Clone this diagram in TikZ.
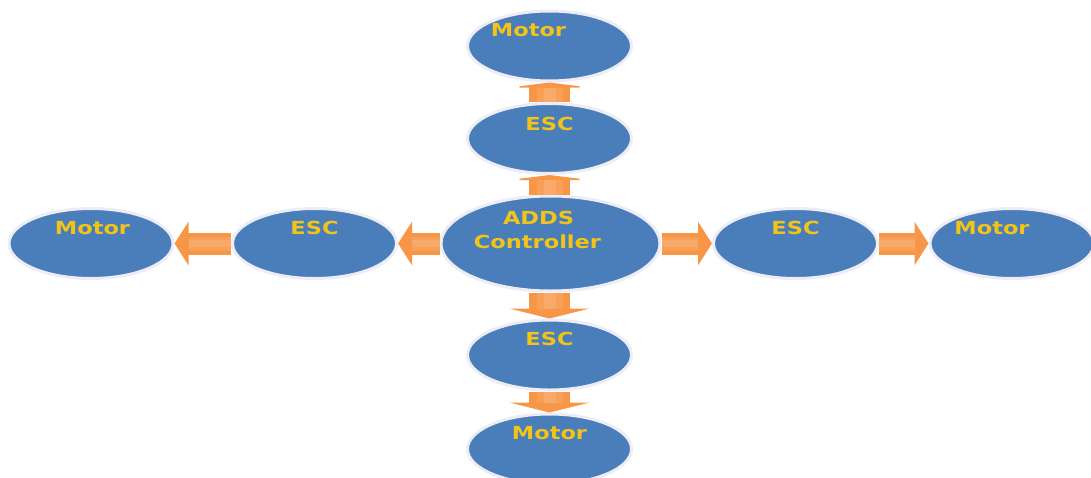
\documentclass[tikz,border=0pt]{standalone}
\usepackage{fontspec}
\usepackage{graphicx}
\setmainfont{DejaVu Sans}
\usetikzlibrary{arrows.meta,shapes.geometric}
\definecolor{blobblue}{RGB}{74,126,187}
\definecolor{blobrim}{RGB}{238,236,245}
\definecolor{txtgold}{RGB}{242,196,24}
\definecolor{arrorange}{RGB}{247,150,70}
\definecolor{arrmid}{RGB}{248,160,88}
\definecolor{arrlight}{RGB}{249,170,106}
\newcommand{\wtxt}[1]{\scalebox{1.25}[1]{#1}}
\tikzset{
  blob/.style={ellipse, fill=blobblue, draw=blobrim, line width=3pt,
    minimum width=164pt, minimum height=70pt, inner sep=0pt},
  bigblob/.style={blob, minimum width=219pt, minimum height=95pt},
  lbltxt/.style={text=txtgold, font=\fontsize{18}{22}\selectfont\bfseries,
    inner sep=0pt, text depth=0pt},
  harrow/.style={arrorange, line width=22pt,
    -{Triangle[width=43pt,length=14pt]}},
  hglowa/.style={arrmid, line width=14pt, shorten >=14pt},
  hglowb/.style={arrlight, line width=7pt, shorten >=14pt},
  uparrow/.style={arrorange, line width=41pt,
    -{Triangle[width=80pt,length=5pt]}},
  dnarrow/.style={arrorange, line width=41pt,
    -{Triangle[width=80pt,length=10pt]}},
  vglowa/.style={arrmid, line width=26pt},
  vglowb/.style={arrlight, line width=12pt},
}
\begin{document}
\begin{tikzpicture}[x=1pt,y=-1pt]
\useasboundingbox (0,0) rectangle (1091,477);
\clip (0,0) rectangle (1091,477);
\node[blob, label={[lbltxt, xshift=-21pt, yshift=16pt]center:\wtxt{Motor}}] (tmot) at (549.5,46) {};
\node[blob, label={[lbltxt, yshift=15pt]center:\wtxt{ESC}}] (tesc) at (549.5,138.5) {};
\node[bigblob,
  label={[lbltxt, xshift=-12pt, yshift=25.5pt]center:\wtxt{ADDS}},
  label={[lbltxt, xshift=-13pt, yshift=2pt]center:\wtxt{Controller}}] (ctrl) at (550.5,243.5) {};
\node[blob, label={[lbltxt, xshift=1.5pt, yshift=15.5pt]center:\wtxt{Motor}}] (lmot) at (91,243.5) {};
\node[blob, label={[lbltxt, yshift=15.5pt]center:\wtxt{ESC}}] (lesc) at (314.5,243.5) {};
\node[blob, label={[lbltxt, yshift=16pt]center:\wtxt{ESC}}] (resc) at (795.5,243.5) {};
\node[blob, label={[lbltxt, xshift=-20pt, yshift=16pt]center:\wtxt{Motor}}] (rmot) at (1012,243.5) {};
\node[blob, label={[lbltxt, yshift=16pt]center:\wtxt{ESC}}] (besc) at (549.5,355) {};
\node[blob, label={[lbltxt, yshift=16.5pt]center:\wtxt{Motor}}] (bmot) at (549.5,449) {};
% connectors
\foreach \a/\b in {ctrl.north -| tesc.south/tesc.south, tesc.north/tmot.south}{
  \draw[uparrow] (\a) -- (\b);
  \draw[vglowa] (\a) -- ([yshift=-5pt]\b);
  \draw[vglowb] (\a) -- ([yshift=-5pt]\b);
}
\foreach \a/\b in {ctrl.south -| besc.north/besc.north, besc.south/bmot.north}{
  \draw[dnarrow] (\a) -- (\b);
  \draw[vglowa] (\a) -- ([yshift=10pt]\b);
  \draw[vglowb] (\a) -- ([yshift=10pt]\b);
}
\foreach \a/\b in {ctrl.west/lesc.east, lesc.west/lmot.east, ctrl.east/resc.west, resc.east/rmot.west}{
  \draw[harrow] (\a) -- (\b);
  \draw[hglowa] (\a) -- (\b);
  \draw[hglowb] (\a) -- (\b);
}
\end{tikzpicture}
\end{document}
